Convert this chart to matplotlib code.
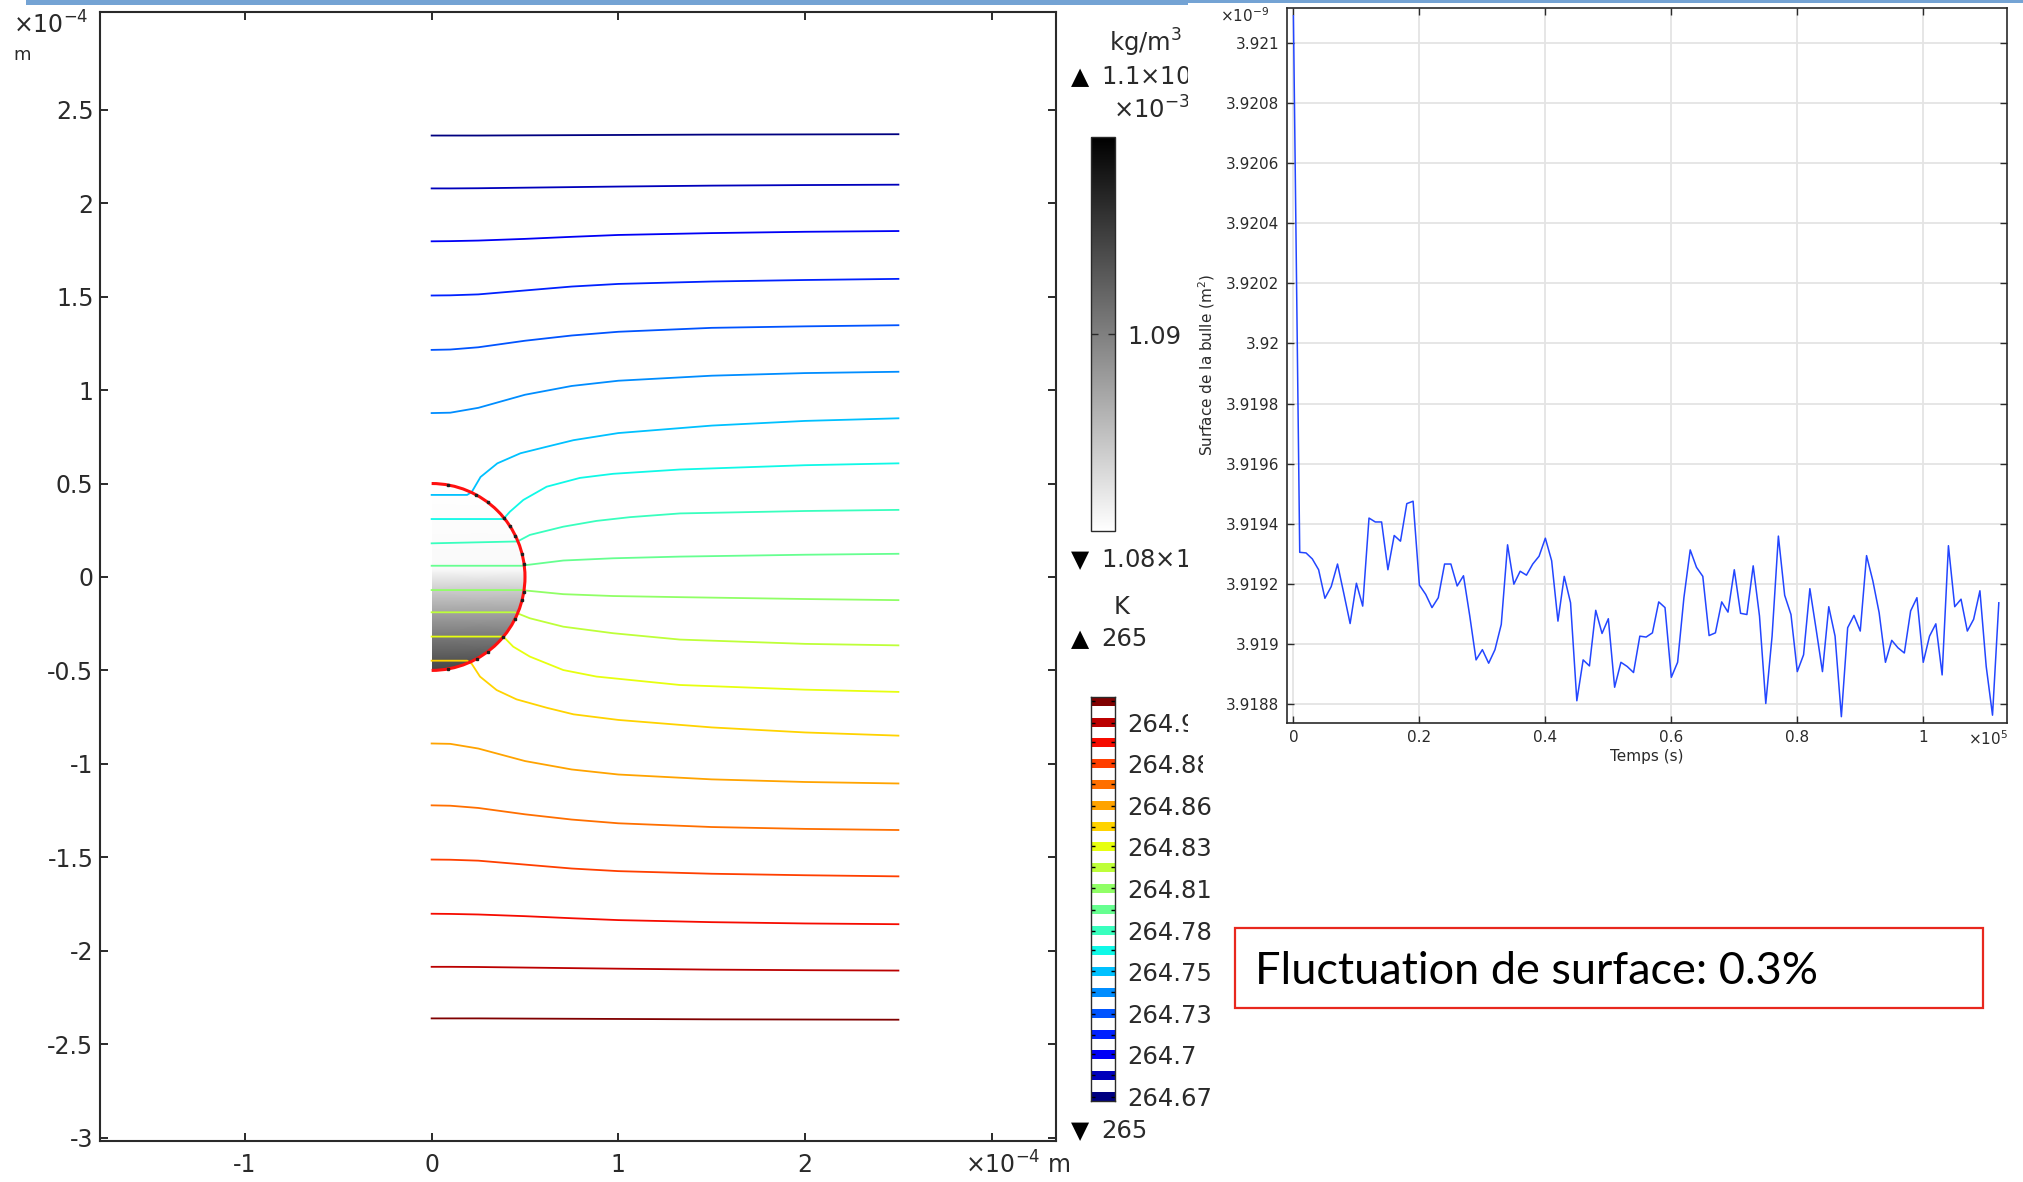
import numpy as np
import matplotlib
matplotlib.use("Agg")
import matplotlib.pyplot as plt
from matplotlib import cm, colors
from matplotlib.patches import Rectangle, Wedge, Arc

plt.rcParams["font.family"] = ["DejaVu Sans"]

# ---------------- data: right plot (bubble surface vs time) ----------------
temps_ks = [0, 1, 2, 3, 4, 5, 6, 7, 8, 9, 10, 11, 12, 13, 14, 15, 16, 17, 18, 19,
            20, 21, 22, 23, 24, 25, 26, 27, 28, 29, 30, 31, 32, 33, 34, 35, 36, 37, 38, 39,
            40, 41, 42, 43, 44, 45, 46, 47, 48, 49, 50, 51, 52, 53, 54, 55, 56, 57, 58, 59,
            60, 61, 62, 63, 64, 65, 66, 67, 68, 69, 70, 71, 72, 73, 74, 75, 76, 77, 78, 79,
            80, 81, 82, 83, 84, 85, 86, 87, 88, 89, 90, 91, 92, 93, 94, 95, 96, 97, 98, 99,
            100, 101, 102, 103, 104, 105, 106, 107, 108, 109, 110, 111, 112]
surface_e9 = [3.92109, 3.919305, 3.919303, 3.919283, 3.919247, 3.919152, 3.919191, 3.919266,
              3.919168, 3.919068, 3.919202, 3.919126, 3.919419, 3.919406, 3.919406, 3.919247,
              3.919361, 3.919342, 3.919467, 3.919475, 3.919196, 3.919165, 3.919121, 3.919154,
              3.919266, 3.919266, 3.919193, 3.919227, 3.919093, 3.918947, 3.918981, 3.918936,
              3.918981, 3.919065, 3.919330, 3.919199, 3.919242, 3.919229, 3.919266, 3.919292,
              3.919352, 3.919277, 3.919076, 3.919225, 3.919137, 3.918811, 3.918947, 3.918927,
              3.919112, 3.919035, 3.919084, 3.918856, 3.918939, 3.918925, 3.918905, 3.919026,
              3.919023, 3.919037, 3.919140, 3.919121, 3.918889, 3.918939, 3.919154, 3.919313,
              3.919255, 3.919225, 3.919028, 3.919037, 3.919140, 3.919106, 3.919247, 3.919102,
              3.919098, 3.919260, 3.919093, 3.918802, 3.919026, 3.919359, 3.919162, 3.919098,
              3.918908, 3.918964, 3.919184, 3.919048, 3.918908, 3.919124, 3.919026, 3.918758,
              3.919054, 3.919095, 3.919043, 3.919294, 3.919210, 3.919104, 3.918939, 3.919012,
              3.918987, 3.918970, 3.919110, 3.919154, 3.918939, 3.919026, 3.919067, 3.918897,
              3.919327, 3.919124, 3.919149, 3.919043, 3.919082, 3.919177, 3.918925, 3.918763,
              3.919137]
r_xticks = [0, 0.2, 0.4, 0.6, 0.8, 1.0]
r_xticklabels = ["0", "0.2", "0.4", "0.6", "0.8", "1"]
r_yticks = [3.9188, 3.919, 3.9192, 3.9194, 3.9196, 3.9198, 3.92, 3.9202, 3.9204, 3.9206, 3.9208, 3.921]
r_yticklabels = ["3.9188", "3.919", "3.9192", "3.9194", "3.9196", "3.9198", "3.92",
                 "3.9202", "3.9204", "3.9206", "3.9208", "3.921"]

# ---------------- data: left plot (isotherms, units 1e-4 m) ----------------
iso_far_x = [0.0, 0.1, 0.25, 0.5, 0.75, 1.0, 1.5, 2.0, 2.5]
iso_top_y = [
    [2.362, 2.362, 2.362, 2.363, 2.364, 2.365, 2.367, 2.368, 2.369],
    [2.079, 2.079, 2.080, 2.083, 2.086, 2.089, 2.094, 2.097, 2.099],
    [1.796, 1.797, 1.800, 1.809, 1.820, 1.830, 1.840, 1.847, 1.851],
    [1.506, 1.507, 1.512, 1.533, 1.554, 1.568, 1.581, 1.589, 1.595],
    [1.215, 1.217, 1.229, 1.264, 1.292, 1.312, 1.333, 1.341, 1.347],
    [0.877, 0.879, 0.905, 0.975, 1.022, 1.050, 1.077, 1.091, 1.098],
]
iso_bot_y = [
    [-0.891, -0.893, -0.918, -0.985, -1.030, -1.057, -1.083, -1.097, -1.105],
    [-1.222, -1.224, -1.236, -1.270, -1.298, -1.318, -1.338, -1.348, -1.354],
    [-1.512, -1.513, -1.518, -1.539, -1.560, -1.574, -1.588, -1.596, -1.602],
    [-1.802, -1.803, -1.806, -1.815, -1.826, -1.836, -1.847, -1.854, -1.858],
    [-2.086, -2.086, -2.087, -2.090, -2.093, -2.096, -2.101, -2.104, -2.106],
    [-2.362, -2.362, -2.362, -2.363, -2.364, -2.365, -2.367, -2.368, -2.369],
]
# isotherms that cross the bubble (top to bottom)
iso_mid_x = [
    [0, 0.19, 0.215, 0.262, 0.352, 0.476, 0.617, 0.76, 1.0, 1.5, 2.0, 2.5],
    [0, 0.384, 0.419, 0.491, 0.616, 0.794, 0.972, 1.33, 2.0, 2.5],
    [0, 0.46, 0.526, 0.705, 0.883, 1.062, 1.33, 2.0, 2.5],
    [0, 0.496, 0.509, 0.705, 0.972, 1.33, 2.0, 2.5],
    [0, 0.496, 0.509, 0.705, 0.972, 1.33, 2.0, 2.5],
    [0, 0.446, 0.526, 0.705, 0.972, 1.33, 2.0, 2.5],
    [0, 0.384, 0.437, 0.526, 0.705, 0.883, 1.151, 1.33, 2.0, 2.5],
    [0, 0.19, 0.215, 0.259, 0.348, 0.455, 0.617, 0.76, 1.0, 1.5, 2.0, 2.5],
]
iso_mid_y = [
    [0.439, 0.439, 0.455, 0.535, 0.608, 0.662, 0.697, 0.732, 0.77, 0.81, 0.835, 0.849],
    [0.31, 0.31, 0.349, 0.412, 0.483, 0.530, 0.552, 0.575, 0.598, 0.608],
    [0.18, 0.19, 0.225, 0.269, 0.300, 0.320, 0.340, 0.353, 0.359],
    [0.06, 0.06, 0.064, 0.088, 0.100, 0.109, 0.119, 0.124],
    [-0.07, -0.07, -0.073, -0.092, -0.102, -0.108, -0.118, -0.124],
    [-0.189, -0.189, -0.221, -0.266, -0.301, -0.335, -0.358, -0.366],
    [-0.319, -0.319, -0.373, -0.426, -0.498, -0.533, -0.560, -0.578, -0.603, -0.615],
    [-0.448, -0.448, -0.465, -0.533, -0.605, -0.655, -0.700, -0.735, -0.765, -0.805, -0.832, -0.849],
]
# mesh nodes on bubble interface
node_x = [0.087, 0.235, 0.301, 0.389, 0.419, 0.449, 0.485, 0.495, 0.494, 0.485, 0.446, 0.383, 0.301, 0.242, 0.087]
node_y = [0.492, 0.441, 0.399, 0.315, 0.272, 0.219, 0.121, 0.070, -0.078, -0.121, -0.227, -0.321, -0.399, -0.437, -0.492]
# density inside the bubble (1e-3 kg/m3) at heights
rho_y = [0.5, 0.04, -0.07, -0.19, -0.32, -0.45, -0.5]
rho_vals = [1.0800, 1.0805, 1.0840, 1.0872, 1.0905, 1.0935, 1.0945]

l_xticks = [-1, 0, 1, 2, 3]
l_xticklabels = ["-1", "0", "1", "2", ""]
l_yticks = [-3, -2.5, -2, -1.5, -1, -0.5, 0, 0.5, 1, 1.5, 2, 2.5]
l_yticklabels = ["-3", "-2.5", "-2", "-1.5", "-1", "-0.5", "0", "0.5", "1", "1.5", "2", "2.5"]

T_levels = [264.670, 264.683, 264.696, 264.708, 264.721, 264.734, 264.747, 264.760, 264.772, 264.785,
            264.798, 264.811, 264.824, 264.836, 264.849, 264.862, 264.875, 264.888, 264.900, 264.913]
T_labels = ["264.67", "", "264.7", "", "264.73", "", "264.75", "", "264.78", "",
            "264.81", "", "264.83", "", "264.86", "", "264.88", "", "264.9", ""]

# ---------------- figure ----------------
W, H = 2024, 1182
fig = plt.figure(figsize=(W / 100, H / 100), dpi=100)
fig.patch.set_facecolor("white")


def rect(x0, y0, x1, y1):
    return [x0 / W, 1 - y1 / H, (x1 - x0) / W, (y1 - y0) / H]


def fxy(x, y):
    return x / W, 1 - y / H


# ---- left axes ----
ax = fig.add_axes(rect(100.4, 12, 1056, 1141))
ax.set_xlim(-1.774, 3.344)
ax.set_ylim(-3.018, 3.023)
jet = plt.get_cmap("jet")
all_x = [iso_far_x] * 6 + iso_mid_x + [iso_far_x] * 6
all_y = iso_top_y + iso_mid_y + iso_bot_y
for j, (xs, ys) in enumerate(zip(all_x, all_y)):
    ax.plot(xs, ys, color=jet(j / 19), lw=1.3, zorder=3, solid_joinstyle="round")

# bubble density field
Xg = np.array([[0.0, 0.5] for _ in rho_y])
Yg = np.array([[v, v] for v in rho_y])
Cg = np.array([[v, v] for v in rho_vals])
mesh = ax.pcolormesh(Xg, Yg, Cg, shading="gouraud", cmap="gray_r", vmin=1.08, vmax=1.10, zorder=2)
clip = Wedge((0, 0), 0.5, -90, 90, transform=ax.transData)
mesh.set_clip_path(clip)
ax.add_patch(Arc((0, 0), 1.0, 1.0, theta1=-90, theta2=90, color="#ff1010", lw=2.2, zorder=4))
ax.plot(node_x, node_y, ls="none", marker="s", ms=1.6, color="#202020", zorder=5)

ax.set_xticks(l_xticks)
ax.set_xticklabels(l_xticklabels)
ax.set_yticks(l_yticks)
ax.set_yticklabels(l_yticklabels)
ax.tick_params(direction="in", top=True, right=True, length=6, width=1.4, labelsize=17,
               colors="#2a2a2a")
ax.tick_params(axis="x", pad=9)
ax.tick_params(axis="y", pad=5)
for s in ax.spines.values():
    s.set_linewidth(1.5)
    s.set_color("#2a2a2a")

fig.text(*fxy(13, 25), "×10$^{-4}$", fontsize=17, va="center", ha="left", color="#2a2a2a")
fig.text(*fxy(13, 55), "m", fontsize=13, va="center", ha="left", color="#2a2a2a")
fig.text(*fxy(965, 1165), "×10$^{-4}$ m", fontsize=17, va="center", ha="left", color="#2a2a2a")

# ---- density colorbar ----
dax = fig.add_axes(rect(1091, 137, 1115, 531))
cb = fig.colorbar(cm.ScalarMappable(norm=colors.Normalize(1.08, 1.10), cmap="gray_r"), cax=dax)
cb.set_ticks([1.09])
cb.set_ticklabels(["1.09"])
dax.tick_params(direction="in", left=True, right=True, length=5, width=1, labelsize=17.5, pad=9,
                colors="#2a2a2a")
cb.outline.set_linewidth(1.0)
cb.outline.set_edgecolor("#2a2a2a")

txt_kw = dict(fontsize=17.5, va="center", color="#2a2a2a", zorder=1)
fig.text(*fxy(1182, 43), "kg/m$^3$", ha="right", **txt_kw)
fig.text(*fxy(1080, 77), "▲", ha="center", fontsize=17, va="center", color="black", zorder=1)
fig.text(*fxy(1101, 77), "1.1×10$^{-3}$", ha="left", **txt_kw)
fig.text(*fxy(1113, 110), "×10$^{-3}$", ha="left", **txt_kw)
fig.text(*fxy(1080, 560), "▼", ha="center", fontsize=17, va="center", color="black", zorder=1)
fig.text(*fxy(1101, 560), "1.08×10$^{-3}$", ha="left", **txt_kw)
fig.text(*fxy(1122, 607), "K", ha="center", **txt_kw)
fig.text(*fxy(1080, 639), "▲", ha="center", fontsize=17, va="center", color="black", zorder=1)
fig.text(*fxy(1101, 639), "265", ha="left", **txt_kw)
fig.text(*fxy(1080, 1131), "▼", ha="center", fontsize=17, va="center", color="black", zorder=1)
fig.text(*fxy(1101, 1131), "265", ha="left", **txt_kw)

# ---- temperature contour legend ----
tax = fig.add_axes(rect(1091, 697, 1115, 1101))
step = T_levels[1] - T_levels[0]
band = 0.42 * step
for j, T in enumerate(T_levels):
    tax.barh(T, 1.0, height=band, left=0, color=jet(j / 19), edgecolor="none")
tax.set_xlim(0, 1)
tax.set_ylim(T_levels[0] - band / 2, T_levels[-1] + band / 2)
tax.set_xticks([])
tax.set_yticks(T_levels)
tax.set_yticklabels(T_labels)
tax.tick_params(axis="y", direction="in", left=True, right=True, labelleft=False, labelright=True,
                length=3, width=1, labelsize=17.5, pad=9, colors="black")
for lab in tax.get_yticklabels():
    lab.set_color("#2a2a2a")
for s in tax.spines.values():
    s.set_linewidth(1.0)
    s.set_color("#2a2a2a")

# background of the right screenshot (clips the legend labels)
fig.patches.append(Rectangle(fxy(1188, 742), (W - 1188) / W, 740 / H, transform=fig.transFigure,
                             facecolor="white", edgecolor="none", zorder=2))
fig.patches.append(Rectangle(fxy(1203, 784), (W - 1203) / W, 42 / H, transform=fig.transFigure,
                             facecolor="white", edgecolor="none", zorder=2))

# ---- right axes ----
rax = fig.add_axes(rect(1286.5, 7.5, 2007, 722.7), zorder=5)
rax.plot([t / 100 for t in temps_ks], surface_e9, color="#2346ff", lw=1.1)
rax.set_xlim(-0.011, 1.133)
rax.set_ylim(3.918738, 3.921118)
rax.set_xticks(r_xticks)
rax.set_xticklabels(r_xticklabels)
rax.set_yticks(r_yticks)
rax.set_yticklabels(r_yticklabels)
rax.grid(True, color="#e4e4e4", lw=1.3)
rax.set_axisbelow(True)
rax.tick_params(direction="in", top=True, right=True, length=5, width=1, labelsize=11,
                colors="#2a2a2a", pad=5)
for s in rax.spines.values():
    s.set_linewidth(1.2)
    s.set_color("#2a2a2a")

small_kw = dict(fontsize=11, color="#2a2a2a", zorder=6)
fig.text(*fxy(1220, 16), "×10$^{-9}$", ha="left", va="center", **small_kw)
fig.text(*fxy(1968, 739), "×10$^{5}$", ha="left", va="center", **small_kw)
fig.text(*fxy(1647, 757), "Temps (s)", ha="center", va="center", **small_kw)
fig.text(*fxy(1207, 365), "Surface de la bulle (m$^2$)", ha="center", va="center", rotation=90,
         **small_kw)

# ---- annotation box ----
fig.patches.append(Rectangle(fxy(1235, 1008), 748 / W, 80 / H, transform=fig.transFigure,
                             facecolor="white", edgecolor="#e8281e", lw=1.6, zorder=3))
fig.text(*fxy(1255, 971), "Fluctuation de surface: 0.3%", family=["Lato", "DejaVu Sans"],
         fontsize=32.5, ha="left", va="center", color="black", zorder=4)

# ---- thin blue rule at the top ----
fig.patches.append(Rectangle(fxy(26, 4.5), (1188 - 26) / W, 4.5 / H, transform=fig.transFigure,
                             facecolor="#74a3d4", edgecolor="none", zorder=10))
fig.patches.append(Rectangle(fxy(1188, 2.5), (W - 1188) / W, 2.5 / H, transform=fig.transFigure,
                             facecolor="#74a3d4", edgecolor="none", zorder=10))

fig.savefig("out.png", dpi=100, facecolor="white")
